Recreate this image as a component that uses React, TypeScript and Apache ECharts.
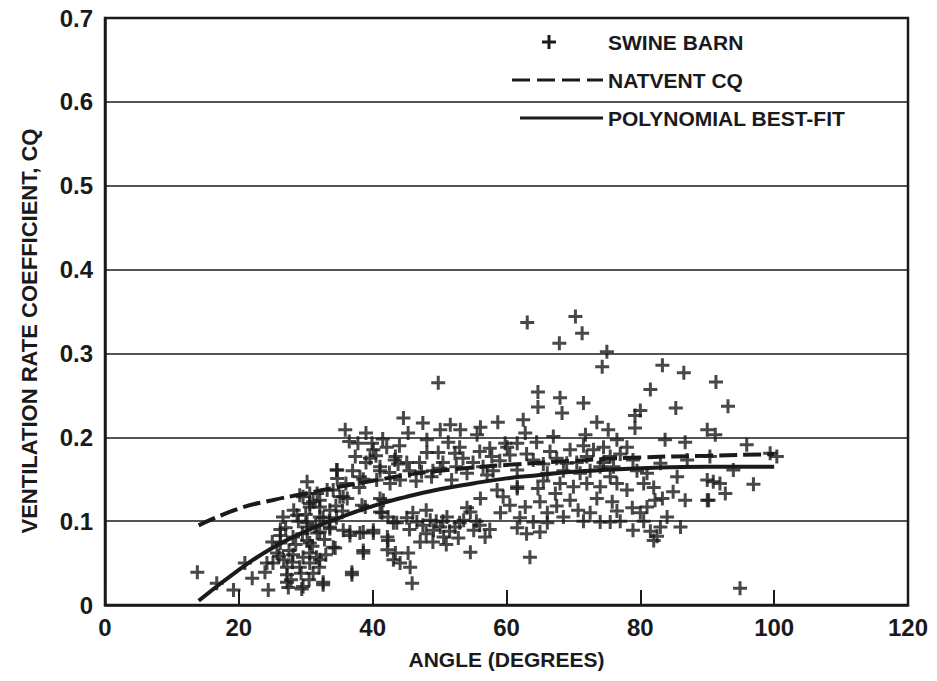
import React, { useEffect, useRef } from "react";
import * as echarts from "echarts";

// ---------- data ----------
const xTicks = [0, 20, 40, 60, 80, 100, 120];
const yTicks = [0, 0.1, 0.2, 0.3, 0.4, 0.5, 0.6, 0.7];

const swineBarn: [number, number][] = [
  [13.8, 0.039], [20.9, 0.05], [22, 0.032], [19.2, 0.018], [16.7, 0.026],
  [24.4, 0.018], [27.4, 0.021], [29.4, 0.019], [23.9, 0.039], [25.1, 0.05],
  [26.2, 0.083], [26.2, 0.074], [26.6, 0.105], [28.7, 0.107], [28, 0.051],
  [27.2, 0.036], [29.1, 0.045], [30.6, 0.062], [29.6, 0.057], [31.1, 0.123],
  [29.1, 0.131], [35.9, 0.209], [37.8, 0.193], [39.9, 0.193], [40.1, 0.185],
  [42.1, 0.188], [37.4, 0.177], [41.1, 0.165], [43.3, 0.173], [34.7, 0.161],
  [34.7, 0.151], [38.1, 0.153], [40.6, 0.149], [30.2, 0.147], [29.6, 0.129],
  [31.7, 0.133], [33.2, 0.137], [35.1, 0.129], [36.2, 0.127], [30.6, 0.121],
  [32.1, 0.117], [33.6, 0.113], [38.9, 0.117], [41.6, 0.125], [41.4, 0.11],
  [28.9, 0.1], [32.6, 0.104], [43.1, 0.098], [26.2, 0.09], [28.1, 0.081],
  [30.2, 0.077], [31.7, 0.086], [33.6, 0.091], [35.6, 0.089], [36.6, 0.083],
  [38.6, 0.087], [40.1, 0.086], [42.2, 0.081], [34.1, 0.069], [38.6, 0.062],
  [42.2, 0.066], [43.1, 0.054], [24.2, 0.05], [25.7, 0.062], [26.7, 0.054],
  [28.1, 0.06], [27.2, 0.045], [30.6, 0.05], [32.1, 0.054], [31.1, 0.038],
  [27.2, 0.027], [32.6, 0.024], [36.9, 0.039],
  [27.5, 0.065], [28.5, 0.072], [29.5, 0.085], [30.2, 0.098], [31.5, 0.095],
  [32.8, 0.078], [27, 0.092], [28.2, 0.113], [30, 0.108], [31, 0.07],
  [33, 0.06], [25, 0.075], [26, 0.058], [29.3, 0.038], [30.5, 0.03],
  [27.8, 0.03], [32, 0.045], [33.5, 0.1], [34.5, 0.118], [35.5, 0.112],
  [36, 0.145], [37, 0.16], [38, 0.14], [39, 0.17], [40.5, 0.178],
  [42.5, 0.158], [44, 0.19], [36.5, 0.195], [39, 0.205], [41.5, 0.198],
  [49.8, 0.265], [58.7, 0.218], [44.6, 0.223], [47.5, 0.217], [45.3, 0.205],
  [50.1, 0.209], [51.6, 0.215], [53.1, 0.209], [56.1, 0.212], [55.6, 0.203],
  [51.3, 0.194], [48.1, 0.197], [48.1, 0.182], [49.8, 0.182], [52.3, 0.181],
  [57.5, 0.187], [60.1, 0.188], [61.6, 0.193], [57.8, 0.177], [60.5, 0.179],
  [39.6, 0.175], [41.1, 0.16], [43.4, 0.177], [43.8, 0.168], [45.1, 0.17],
  [34.6, 0.161], [38.6, 0.15], [42.6, 0.145], [44.1, 0.149], [47.3, 0.159],
  [48.8, 0.153], [50.1, 0.163], [51.8, 0.149], [54.1, 0.157], [57.1, 0.155],
  [58.6, 0.137], [61.6, 0.141], [30.6, 0.133], [32.1, 0.125], [30.6, 0.117],
  [34.1, 0.137], [35.6, 0.129], [38.4, 0.119], [41.1, 0.127], [41.1, 0.111],
  [32.1, 0.105], [34.6, 0.104], [33.6, 0.093], [32.1, 0.087], [30.2, 0.093],
  [30.6, 0.074], [31.6, 0.057], [36.6, 0.087], [38.1, 0.086], [40.1, 0.089],
  [34.4, 0.068], [38.6, 0.065], [36.9, 0.036], [32.6, 0.027], [29.6, 0.022],
  [42.3, 0.105], [43.6, 0.098], [45.1, 0.104], [46.6, 0.099], [48.6, 0.101],
  [50.1, 0.093], [51.1, 0.105], [52.3, 0.093], [53.6, 0.101], [54.6, 0.111],
  [55.1, 0.089], [56.8, 0.081], [54.1, 0.116], [50.6, 0.081], [49.1, 0.089],
  [47.1, 0.075], [42.3, 0.077], [43.4, 0.062], [45.3, 0.062], [44.1, 0.05],
  [45.6, 0.045], [45.9, 0.026], [54.6, 0.063], [59.1, 0.11], [60.5, 0.119],
  [56.1, 0.127], [59.5, 0.129],
  [46, 0.11], [47.5, 0.095], [48, 0.085], [49.5, 0.1], [50.5, 0.1],
  [51.5, 0.088], [52.8, 0.08], [53, 0.098], [55.5, 0.1], [56, 0.095],
  [57.5, 0.09], [49, 0.075], [51, 0.072], [48, 0.113], [45.5, 0.09],
  [45.5, 0.16], [46.5, 0.148], [47, 0.17], [49, 0.16], [50.5, 0.17],
  [52.5, 0.165], [53.5, 0.175], [55, 0.17], [56.5, 0.165], [58, 0.16],
  [59, 0.172], [56, 0.183], [53, 0.188],
  [63.1, 0.337], [70.3, 0.344], [71.3, 0.324], [67.9, 0.312], [75, 0.302],
  [74.3, 0.284], [83.3, 0.286], [86.5, 0.277], [91.3, 0.266], [81.5, 0.257],
  [85.3, 0.235], [64.7, 0.254], [68, 0.247], [71.5, 0.241], [64.7, 0.236],
  [68.3, 0.229], [80, 0.232], [79.2, 0.226], [79.2, 0.211], [73.5, 0.218],
  [75.2, 0.209], [62.5, 0.221], [62.8, 0.205], [67, 0.201], [71.8, 0.203],
  [83.7, 0.197], [86.7, 0.194], [90, 0.209], [91.2, 0.203], [59.8, 0.193],
  [64.5, 0.194], [66.5, 0.183], [76.5, 0.197], [78, 0.188], [74.5, 0.188],
  [72, 0.177], [75.5, 0.177], [64, 0.173], [69, 0.169], [74, 0.165],
  [78.9, 0.173], [83, 0.169], [87, 0.173], [90.4, 0.177], [61.6, 0.161],
  [66.1, 0.157], [71, 0.157], [75.5, 0.153], [81, 0.157], [85.5, 0.153],
  [90, 0.149], [61.6, 0.139], [64.7, 0.139], [67.3, 0.133], [70, 0.141],
  [74, 0.141], [73.5, 0.127], [75.8, 0.123], [78, 0.137], [78.8, 0.116],
  [81, 0.117], [82.2, 0.125], [83.3, 0.127], [84.9, 0.135], [86.7, 0.125],
  [90, 0.125], [65, 0.123], [62.8, 0.117], [62, 0.104], [64, 0.099],
  [66.1, 0.098], [66.1, 0.11], [69.5, 0.125], [70.7, 0.113], [61.6, 0.092],
  [74, 0.099], [75.5, 0.099], [78.9, 0.089], [80, 0.11], [84, 0.105],
  [83, 0.093], [86, 0.093], [82, 0.077], [63.5, 0.057],
  [63, 0.18], [65.5, 0.168], [67.5, 0.175], [68.5, 0.16], [70.5, 0.17],
  [72.5, 0.16], [73, 0.185], [74.5, 0.17], [76, 0.165], [77, 0.18],
  [79.5, 0.16], [80.5, 0.145], [82, 0.14], [76.5, 0.145], [72, 0.145],
  [68, 0.145], [65.5, 0.148], [71.5, 0.19], [69.5, 0.185],
  [67.5, 0.118], [68.5, 0.105], [71.5, 0.1], [72.5, 0.11], [76.5, 0.112],
  [77, 0.1], [80.5, 0.1], [81.5, 0.088], [82.5, 0.082], [63, 0.085], [65, 0.087],
  [93.1, 0.237], [95.9, 0.191], [99.4, 0.181], [100.4, 0.177], [90.9, 0.147],
  [91.9, 0.145], [92.7, 0.133], [90.2, 0.125], [96.9, 0.144], [93.9, 0.161],
  [94.9, 0.02],
];

const natventAngle = [14, 20, 25, 30, 35, 40, 45, 50, 55, 60, 70, 80, 90, 100];
const natventCq = [0.095, 0.115, 0.125, 0.133, 0.141, 0.148, 0.155, 0.16, 0.164, 0.167, 0.172, 0.176, 0.178, 0.18];

const polyAngle = [14, 20, 25, 30, 35, 40, 45, 50, 55, 60, 65, 70, 80, 90, 100];
const polyCq = [0.005, 0.042, 0.068, 0.088, 0.104, 0.118, 0.129, 0.138, 0.145, 0.151, 0.155, 0.159, 0.163, 0.165, 0.165];

const legendLabels = ["SWINE BARN", "NATVENT CQ", "POLYNOMIAL BEST-FIT"];

const INK = "#1a1a1a";
const FONT = "Liberation Sans";
const PLUS = "path://M5.5,0H8.5V5.5H14V8.5H8.5V14H5.5V8.5H0V5.5H5.5Z";

export default function App() {
  const ref = useRef<HTMLDivElement>(null);
  useEffect(() => {
    if (!ref.current) return;
    const chart = echarts.init(ref.current, undefined, { renderer: "svg" });
    const legendY = [42, 80, 118];
    chart.setOption({
      animation: false,
      backgroundColor: "#ffffff",
      grid: {
        left: 105, right: 29, top: 18, bottom: 76,
        show: true, borderColor: INK, borderWidth: 2.5, backgroundColor: "transparent",
      },
      xAxis: {
        type: "value", min: 0, max: 120, interval: 20,
        name: "ANGLE (DEGREES)", nameLocation: "middle", nameGap: 44,
        nameTextStyle: { fontFamily: FONT, fontWeight: "bold", fontSize: 21, color: INK },
        axisLine: { show: true, lineStyle: { color: INK, width: 2.5 } },
        axisTick: { show: true, inside: true, length: 15, lineStyle: { color: INK, width: 2 } },
        axisLabel: {
          margin: 10, fontFamily: FONT, fontWeight: "bold", fontSize: 24, color: INK,
          formatter: (v: number) => (xTicks.includes(v) ? String(v) : ""),
        },
        splitLine: { show: false },
      },
      yAxis: {
        type: "value", min: 0, max: 0.7, interval: 0.1,
        axisLine: { show: true, lineStyle: { color: INK, width: 2.5 } },
        axisTick: { show: false },
        axisLabel: {
          margin: 12, fontFamily: FONT, fontWeight: "bold", fontSize: 24, color: INK,
          formatter: (v: number) => {
            const t = yTicks.find((k) => Math.abs(k - v) < 1e-6);
            if (t === undefined) return "";
            return t === 0 ? "0" : t.toFixed(1);
          },
        },
        splitLine: { show: true, lineStyle: { color: INK, width: 1.6 } },
      },
      series: [
        {
          name: legendLabels[0],
          type: "scatter",
          symbol: PLUS,
          symbolSize: 14,
          itemStyle: { color: INK },
          data: swineBarn,
          z: 3,
        },
        {
          name: legendLabels[1],
          type: "line",
          smooth: true,
          showSymbol: false,
          lineStyle: { color: INK, width: 4, type: [18, 6] },
          data: natventAngle.map((a, i) => [a, natventCq[i]]),
          z: 4,
        },
        {
          name: legendLabels[2],
          type: "line",
          smooth: true,
          showSymbol: false,
          lineStyle: { color: INK, width: 4 },
          data: polyAngle.map((a, i) => [a, polyCq[i]]),
          z: 4,
        },
      ],
      graphic: [
        {
          type: "text", x: 29, y: 331, rotation: Math.PI / 2,
          style: {
            text: "VENTILATION RATE COEFFICIENT, CQ", fontFamily: FONT, fontWeight: "bold",
            fontSize: 22, fill: INK, align: "center", verticalAlign: "middle",
          },
        },
        { type: "line", shape: { x1: 542, y1: legendY[0], x2: 556, y2: legendY[0] }, style: { stroke: INK, lineWidth: 3 } },
        { type: "line", shape: { x1: 549, y1: legendY[0] - 7, x2: 549, y2: legendY[0] + 7 }, style: { stroke: INK, lineWidth: 3 } },
        { type: "line", shape: { x1: 512, y1: legendY[1], x2: 603, y2: legendY[1] }, style: { stroke: INK, lineWidth: 3, lineDash: [18, 7] } },
        { type: "line", shape: { x1: 520, y1: legendY[2], x2: 603, y2: legendY[2] }, style: { stroke: INK, lineWidth: 3 } },
        ...legendLabels.map((t, i) => ({
          type: "text", x: 608, y: legendY[i],
          style: { text: t, fontFamily: FONT, fontWeight: "bold", fontSize: 21, fill: INK, align: "left", verticalAlign: "middle" },
        })),
      ],
    });
    return () => chart.dispose();
  }, []);
  return <div ref={ref} style={{ position: "fixed", left: 0, top: 0, width: 937, height: 681 }} />;
}
